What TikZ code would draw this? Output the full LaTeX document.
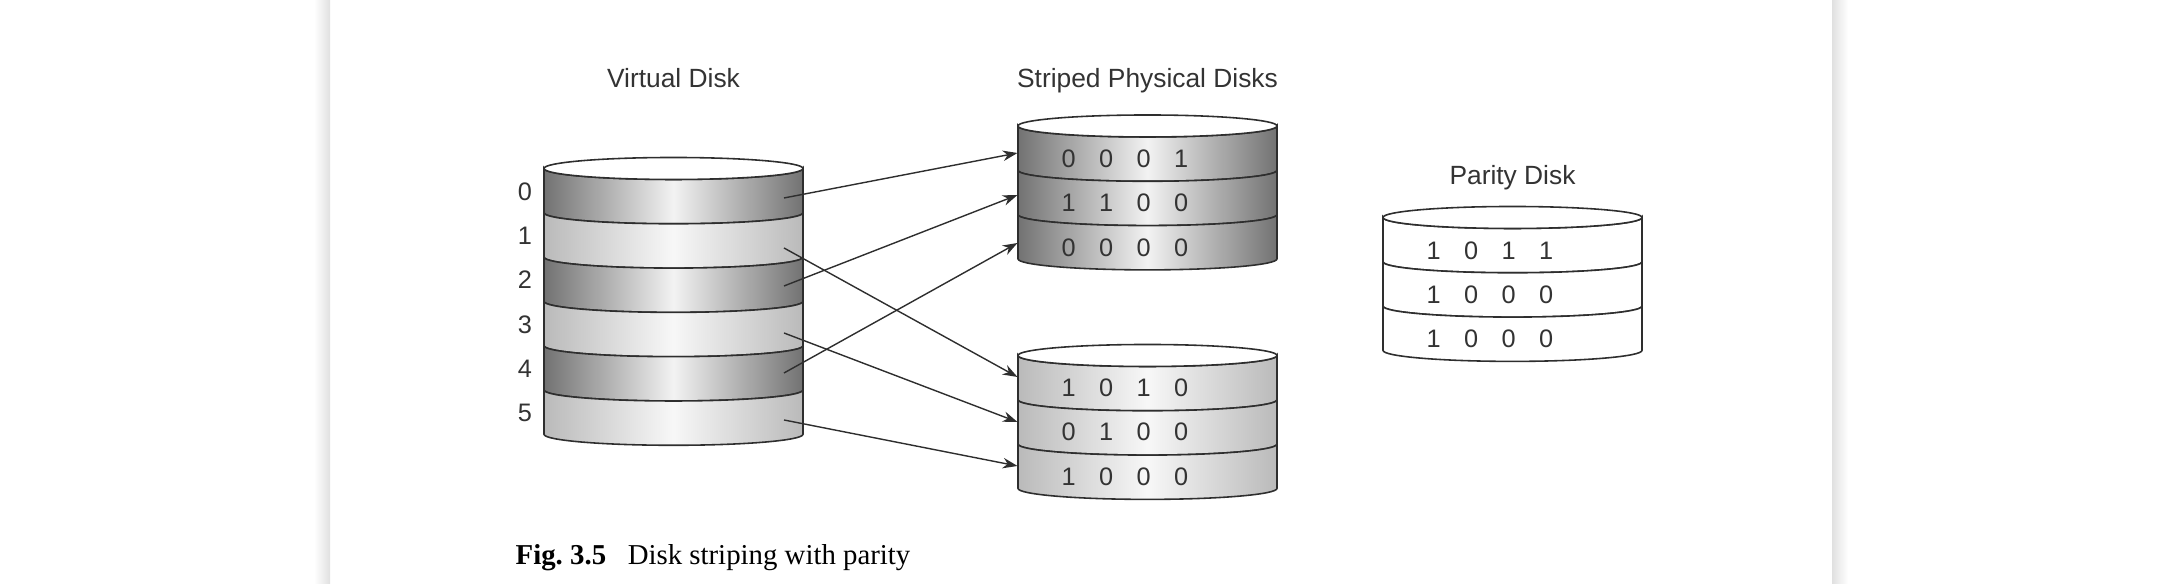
\documentclass[tikz,border=0pt]{standalone}
\usepackage{fontspec}
\setmainfont{Liberation Serif}
\newfontfamily\arialfont{Liberation Sans}
\usetikzlibrary{arrows.meta}
\definecolor{bandDk}{HTML}{727272}
\definecolor{bandLt}{HTML}{BABABA}
\definecolor{inkGray}{HTML}{2E2E2E}
\newcommand{\bitrow}[4]{\makebox[3.75mm]{#1}\makebox[3.75mm]{#2}\makebox[3.75mm]{#3}\makebox[3.75mm]{#4}}
\newcommand{\band}[3]{\path[#3] (#1,#2) arc[start angle=180,end angle=360,x radius=1.295cm,y radius=0.11cm] -- ++(0,-0.443) arc[start angle=0,end angle=-180,x radius=1.295cm,y radius=0.11cm] -- cycle;}
\newcommand{\lid}[2]{\path[lidtop] (#1+1.295,#2) ellipse[x radius=1.295cm,y radius=0.11cm];}
\tikzset{
  dkband/.style={draw=inkGray,line width=0.45pt,left color=bandDk,right color=bandDk,middle color=white!95!black},
  ltband/.style={draw=inkGray,line width=0.45pt,left color=bandLt,right color=bandLt,middle color=white!97!black},
  plainband/.style={draw=inkGray,line width=0.45pt,fill=white},
  lidtop/.style={draw=inkGray,line width=0.45pt,fill=white},
  title/.style={font=\arialfont\fontsize{7.5}{9}\selectfont,text=black!80,anchor=base,inner sep=0},
  bits/.style={font=\arialfont\fontsize{7.2}{9}\selectfont,text=black!80,anchor=west,inner sep=0},
  stripe/.style={draw=inkGray,line width=0.4pt,-{Stealth[length=4.2pt,width=3pt]}},
}
\begin{document}
\begin{tikzpicture}
        \useasboundingbox (0,0) rectangle (21.61,5.84);
        \fill[left color=white,right color=black!12] (3.14,0) rectangle (3.30,5.84);
        \fill[left color=black!12,right color=white] (18.32,0) rectangle (18.48,5.84);
        \band{5.44}{4.155}{dkband}
        \band{5.44}{3.712}{ltband}
        \band{5.44}{3.269}{dkband}
        \band{5.44}{2.826}{ltband}
        \band{5.44}{2.383}{dkband}
        \band{5.44}{1.940}{ltband}
        \lid{5.44}{4.155}
        \band{10.18}{4.58}{dkband}
        \band{10.18}{4.137}{dkband}
        \band{10.18}{3.694}{dkband}
        \lid{10.18}{4.58}
        \band{10.18}{2.285}{ltband}
        \band{10.18}{1.842}{ltband}
        \band{10.18}{1.399}{ltband}
        \lid{10.18}{2.285}
        \band{13.83}{3.665}{plainband}
        \band{13.83}{3.222}{plainband}
        \band{13.83}{2.779}{plainband}
        \lid{13.83}{3.665}
        \draw (6.735,4.965) node[title](vtitle){Virtual Disk};
        \draw (11.475,4.965) node[title](stitle){Striped Physical Disks};
        \draw (15.125,3.99) node[title](ptitle){Parity Disk};
        \draw (5.25,3.925) node[bits,anchor=center](lab0){0};
        \draw (5.25,3.482) node[bits,anchor=center](lab1){1};
        \draw (5.25,3.039) node[bits,anchor=center](lab2){2};
        \draw (5.25,2.596) node[bits,anchor=center](lab3){3};
        \draw (5.25,2.153) node[bits,anchor=center](lab4){4};
        \draw (5.25,1.71) node[bits,anchor=center](lab5){5};
        \draw (10.4925,4.25) node[bits](sa1){\bitrow0001};
        \draw (10.4925,3.807) node[bits](sa2){\bitrow1100};
        \draw (10.4925,3.364) node[bits](sa3){\bitrow0000};
        \draw (10.4925,1.96) node[bits](sb1){\bitrow1010};
        \draw (10.4925,1.517) node[bits](sb2){\bitrow0100};
        \draw (10.4925,1.074) node[bits](sb3){\bitrow1000};
        \draw (14.1425,3.334) node[bits](pr1){\bitrow1011};
        \draw (14.1425,2.891) node[bits](pr2){\bitrow1000};
        \draw (14.1425,2.448) node[bits](pr3){\bitrow1000};
        \coordinate (v0) at (7.84,3.86);
        \coordinate (v1) at (7.84,3.36);
        \coordinate (v2) at (7.84,2.98);
        \coordinate (v3) at (7.84,2.51);
        \coordinate (v4) at (7.84,2.11);
        \coordinate (v5) at (7.84,1.64);
        \coordinate (ta1) at (10.175,4.31);
        \coordinate (ta2) at (10.175,3.89);
        \coordinate (ta3) at (10.175,3.41);
        \coordinate (tb1) at (10.175,2.07);
        \coordinate (tb2) at (10.175,1.62);
        \coordinate (tb3) at (10.175,1.18);
        \path
          (v0) edge[stripe] (ta1)
          (v1) edge[stripe] (tb1)
          (v2) edge[stripe] (ta2)
          (v3) edge[stripe] (tb2)
          (v4) edge[stripe] (ta3)
          (v5) edge[stripe] (tb3)
        ;
        \draw (5.15,0.19) node[anchor=base west,inner sep=0,font=\fontsize{8.2}{10}\selectfont](cap){\textbf{Fig.\ 3.5}\hspace{0.75em}Disk striping with parity};
      \end{tikzpicture}
\end{document}
